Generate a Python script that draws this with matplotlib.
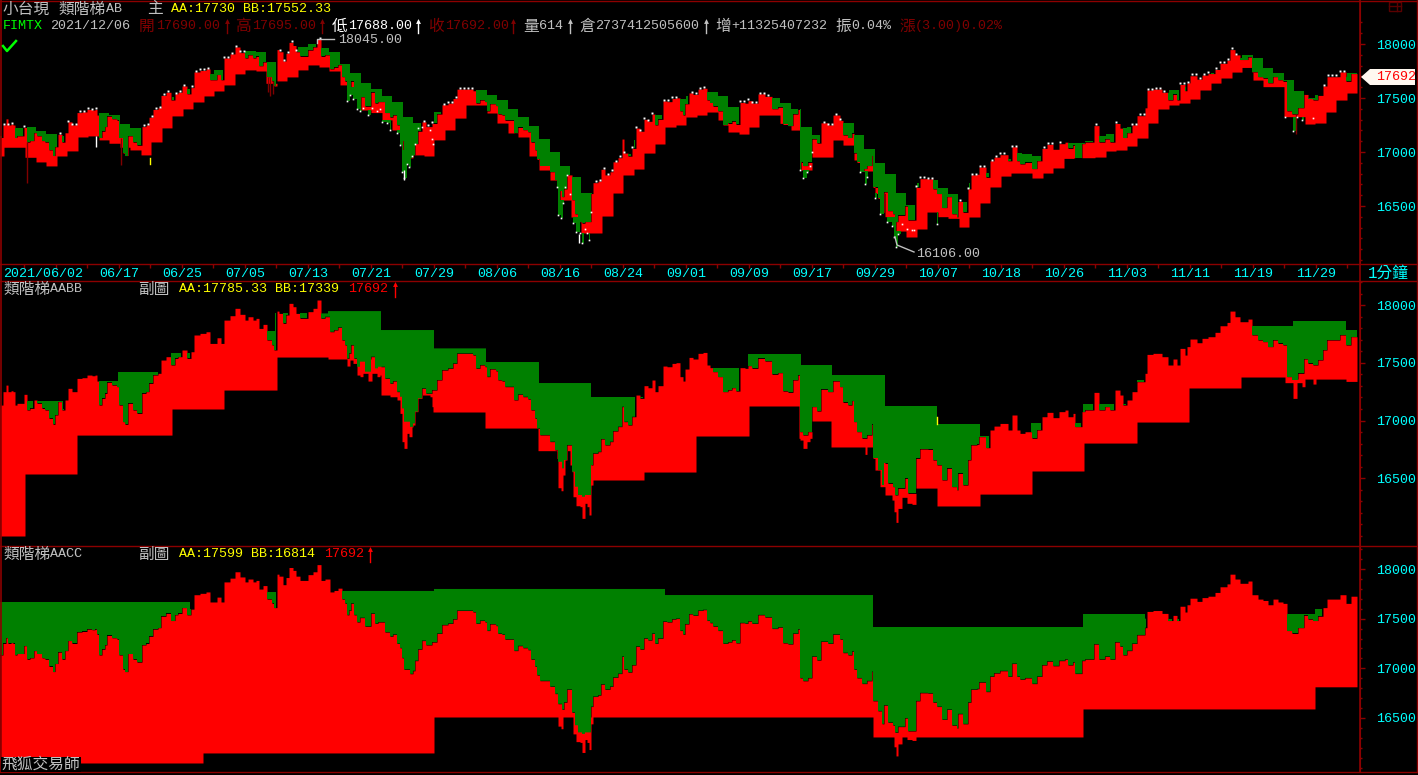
import numpy as np
import matplotlib
matplotlib.use('Agg')
import matplotlib.pyplot as plt
from matplotlib.patches import Polygon, Rectangle

# price (bar position = screen column of the chart)
bar_idx = [0, 3, 6, 8, 11, 13, 15, 17, 20, 24, 27, 30, 34, 37, 42, 45, 49, 53, 55, 58, 62, 65, 68, 72, 77, 82, 87, 92, 95, 97,
           99, 102, 105, 107, 112, 117, 119, 123, 125, 128, 133, 137, 142, 146, 149, 153, 158, 161, 166, 171, 175, 178,
           182, 187, 191, 194, 200, 206, 210, 214, 217, 221, 224, 230, 235, 240, 245, 248, 253, 256, 259, 263, 267, 272,
           274, 277, 279, 283, 286, 289, 293, 296, 300, 305, 308, 313, 317, 321, 325, 330, 334, 338, 342, 345, 347, 349,
           351, 354, 357, 360, 365, 371, 375, 378, 382, 385, 390, 393, 397, 400, 402, 404, 407, 410, 413, 415, 418, 422,
           426, 432, 437, 442, 448, 453, 457, 462, 467, 473, 476, 480, 485, 487, 490, 496, 498, 502, 505, 510, 514, 518,
           523, 528, 531, 535, 537, 540, 545, 550, 555, 558, 562, 564, 567, 569, 572, 575, 578, 582, 585, 588, 591, 593,
           598, 601, 605, 610, 613, 618, 622, 624, 628, 632, 636, 640, 644, 648, 652, 655, 658, 663, 667, 672, 676, 680,
           683, 685, 689, 693, 698, 703, 707, 710, 713, 718, 723, 728, 732, 736, 740, 745, 748, 752, 758, 765, 772, 778,
           783, 788, 793, 798, 800, 803, 808, 812, 817, 821, 828, 833, 840, 843, 848, 852, 854, 857, 862, 867, 872, 873,
           878, 882, 884, 888, 893, 895, 898, 903, 905, 908, 913, 916, 920, 928, 933, 937, 942, 947, 952, 957, 958, 963,
           968, 971, 977, 979, 986, 990, 994, 1000, 1008, 1012, 1017, 1020, 1025, 1032, 1037, 1042, 1047, 1053, 1059, 1065,
           1068, 1073, 1075, 1082, 1085, 1088, 1094, 1099, 1105, 1110, 1115, 1120, 1123, 1127, 1132, 1137, 1145, 1147, 1153,
           1162, 1168, 1173, 1177, 1180, 1185, 1187, 1190, 1197, 1202, 1208, 1215, 1220, 1227, 1230, 1235, 1240, 1248, 1252,
           1258, 1263, 1268, 1273, 1278, 1283, 1287, 1292, 1298, 1304, 1308, 1313, 1318, 1323, 1327, 1332, 1340, 1346, 1351,
           1357]
close = [17134, 17250, 17307, 17250, 17258, 17250, 17134, 17149, 17149, 17227, 17091, 17105, 17178, 17149, 17105, 17091, 17019, 16967, 17048, 17163, 17091, 17178, 17279, 17250, 17365, 17371, 17394, 17388, 17394, 17342,
         17134, 17192, 17235, 17331, 17307, 17293, 17134, 16990, 16967, 17149, 17091, 17062, 17235, 17250, 17322, 17394, 17409, 17524, 17553, 17481, 17538, 17553,
         17611, 17538, 17596, 17741, 17755, 17769, 17668, 17668, 17717, 17668, 17870, 17908, 17972, 17920, 17870, 17899, 17870, 17885, 17798, 17833, 17697, 17654,
         17611, 17948, 17928, 17842, 17914, 18015, 17986, 17928, 17885, 17885, 17943, 17972, 18044, 17885, 17899, 17769, 17784, 17807, 17697, 17654, 17538, 17582,
         17654, 17538, 17466, 17510, 17423, 17553, 17452, 17466, 17466, 17365, 17322, 17342, 17250, 17206, 17105, 16990, 16990, 16945, 16975, 17077, 17192, 17279,
         17235, 17264, 17351, 17437, 17452, 17495, 17582, 17582, 17582, 17567, 17452, 17481, 17466, 17380, 17446, 17429, 17351, 17342, 17293, 17293, 17178, 17227,
         17206, 17186, 17091, 17019, 16932, 16875, 16875, 16817, 16745, 16643, 16586, 16658, 16788, 16788, 16557, 16427, 16355, 16340, 16355, 16355, 16615, 16716,
         16730, 16840, 16788, 16817, 16909, 16947, 17120, 16990, 16961, 17033, 17221, 17192, 17302, 17284, 17351, 17250, 17302, 17472, 17466, 17495, 17501, 17380,
         17342, 17446, 17547, 17533, 17582, 17590, 17481, 17458, 17423, 17380, 17250, 17264, 17284, 17255, 17458, 17452, 17475, 17452, 17538, 17515, 17400, 17414,
         17255, 17244, 17351, 17394, 16903, 16874, 16903, 17120, 17082, 17270, 17250, 17342, 17293, 17157, 17134, 17172, 16990, 16903, 16846, 16874, 16967, 16672,
         16571, 16441, 16629, 16456, 16427, 16355, 16413, 16413, 16499, 16369, 16369, 16672, 16753, 16750, 16658, 16615, 16485, 16586, 16427, 16398, 16542, 16441,
         16658, 16788, 16794, 16860, 16765, 16918, 16952, 16975, 16918, 17048, 16918, 16889, 16903, 16846, 16918, 17033, 17071, 17025, 17077, 17091,
         17033, 17062, 16947, 17077, 17091, 17091, 17244, 17091, 17120, 17091, 17264, 17221, 17134, 17178, 17250, 17336, 17409, 17573, 17582,
         17553, 17481, 17533, 17481, 17625, 17567, 17640, 17706, 17674, 17712, 17726, 17764, 17821, 17850, 17948, 17899, 17856, 17879, 17741,
         17697, 17683, 17640, 17697, 17668, 17654, 17380, 17351, 17409, 17533, 17495, 17481, 17524, 17611, 17697, 17697, 17741, 17654, 17726,
         17689]

# lows, only where they poke out under the ladder
low_idx = [0, 347, 350, 353, 357, 360, 363, 368, 372, 377, 380, 382, 387, 390, 397, 400, 402, 404, 407, 409, 412, 415, 418, 422,
           430, 432, 433, 435, 557, 558, 561, 563, 565, 567, 570, 573, 576, 580, 582, 585, 587, 589, 591, 593, 800, 803, 807,
           810, 812, 814, 860, 865, 867, 869, 875, 880, 887, 892, 894, 896, 898, 902, 907, 912, 914, 916, 937, 939, 1285,
           1293, 1297, 1302, 1305, 1313, 1316]
low = [np.nan, 17472, 17524, 17495, 17394, 17380, 17409, 17342, 17409, 17380, 17394, 17279, 17264, 17206, 17178, 17062, 16817, 16759, 16889, 16860, 16961, 17077, 17221, 17235,
       17206, 17120, 17077, np.nan, 16672, 16418, 16392, 16528, 16672, 16788, 16615, 16340, 16262, 16254, 16153, 16283, 16254, 16182, 16441, np.nan, 16831, 16759, 16817,
       16874, 16996, np.nan, 16817, 16707, 16773, np.nan, 16571, 16427, 16355, 16311, 16210, 16118, 16239, 16335, 16283, 16274, 16274, np.nan, 16337, np.nan, 17328,
       17192, 17328, 17293, np.nan, 17316, np.nan]

# wicks only the one-minute pane shows
wick_bar = [27, 121, 268, 270, 273, 1296]
wick_low = [16710, 16880, 17560, 17520, 17540, 17170]
white_bar = [96, 404, 579]
white_top = [17150, 16830, 16240]
white_low = [17050, 16741, 16160]

# pane 1 ladder, one value per step
p1_aa = [17149, 17149, 17223, 17232, 17195, 17167, 17149, 17204, 17235, 17235, 17362, 17343, 17260, 17223, 17204, 17235, 17358, 17513, 17584, 17575, 17723, 17760, 17729, 17791, 17936, 17926, 17834, 17821, 17821, 17973, 18000, 17963, 17926, 17815, 17732, 17639, 17584, 17519, 17463, 17325, 17269, 17235, 17371, 17328,
         17296, 17450, 17574, 17527, 17481, 17398, 17324, 17240, 17120, 17000, 16870, 16768, 16620, 16648, 16648, 16710, 16981, 17111, 17234, 17342, 17358, 17490, 17518, 17555, 17555, 17518, 17416, 17358, 17389, 17509, 17500, 17453, 17398, 17231, 17157, 17111, 17172, 17268, 17157, 17027, 16898, 16796, 16620,
         16509, 16710, 16740, 16666, 16611, 16537, 16710, 16802, 16870, 16932, 16987, 16981, 16963, 17018, 17027, 17083, 17083, 17101, 17148, 17166, 17222, 17231, 17324, 17481, 17543, 17574, 17598, 17635, 17666, 17728, 17821, 17867, 17898, 17870, 17777, 17731, 17666, 17564, 17497, 17527, 17666, 17697, 17731]
p1_bb = [16963, 17044, 17044, 16951, 16908, 16871, 16963, 17010, 17139, 17149, 17112, 17081, 17044, 17019, 16973, 17093, 17223, 17334, 17399, 17463, 17519, 17565, 17621, 17723, 17760, 17750, 17636, 17658, 17695, 17760, 17806, 17787, 17750, 17621, 17605, 17389, 17365, 17297, 17204, 17019, 16973, 16963, 17112, 17204,
         17314, 17435, 17435, 17361, 17268, 17176, 17139, 16963, 16833, 16740, 16555, 16398, 16250, 16250, 16407, 16620, 16787, 16842, 16990, 17074, 17231, 17250, 17324, 17342, 17370, 17296, 17185, 17166, 17231, 17342, 17342, 17265, 17203, 16833, 16953, 16953, 17111, 17064, 16926, 16824, 16617, 16401, 16268,
         16213, 16287, 16444, 16401, 16386, 16305, 16398, 16528, 16676, 16777, 16805, 16805, 16759, 16805, 16852, 16941, 16947, 16947, 16953, 17009, 17018, 17055, 17129, 17268, 17398, 17435, 17453, 17490, 17574, 17638, 17685, 17740, 17783, 17666, 17605, 17605, 17327, 17327, 17259, 17268, 17370, 17481, 17546]

# pane 2 ladders
p2_aa_edges = [0, 25, 63, 97, 118, 159, 171, 191, 266, 275, 328, 381, 434, 486, 539, 591, 644, 712, 748, 801, 832, 885, 937, 980, 1031, 1083, 1137, 1189, 1252, 1293, 1346, 1358]
p2_aa = [17091, 17169, 17100, 17342, 17420, 17300, 17582, 17500, 17775, 17928, 17948, 17784, 17625, 17507, 17325, 17204, 17150, 17455, 17576, 17481, 17394, 17126, 16970, 16866, 16978, 17143, 17351, 17400, 17818, 17862, 17785]
p2_bb_edges = [0, 25, 77, 172, 224, 277, 328, 381, 433, 485, 538, 591, 644, 696, 749, 799, 812, 831, 885, 916, 937, 980, 1032, 1084, 1137, 1189, 1241, 1285, 1346, 1358]
p2_bb = [16000, 16537, 16874, 17100, 17264, 17550, 17533, 17221, 17074, 16935, 16739, 16485, 16554, 16866, 17126, 16846, 16996, 16771, 16355, 16415, 16260, 16363, 16563, 16805, 16987, 17282, 17377, 17359, 17339]

# pane 3 ladders
p3_aa_edges = [0, 190, 265, 277, 340, 434, 665, 873, 1083, 1145, 1285, 1315, 1358]
p3_aa = [17668, 17600, 17768, 17600, 17779, 17799, 17738, 17416, 17547, 17500, 17547, 17599]
p3_bb_edges = [0, 203, 434, 873, 1083, 1315, 1358]
p3_bb = [16047, 16148, 16510, 16309, 16591, 16814]

date_labels = ['2021/06/02', '06/17', '06/25', '07/05', '07/13', '07/21', '07/29', '08/06', '08/16', '08/24', '09/01',
               '09/09', '09/17', '09/29', '10/07', '10/18', '10/26', '11/03', '11/11', '11/19', '11/29']
price_ticks = [18000, 17500, 17000, 16500]

FRAME = '#8c0000'
GRAY = '#c0c0c0'
DKRED = '#800000'
YEL = '#ffff00'
CYAN = '#00ffff'
MONO = ['Liberation Mono', 'Noto Sans CJK TC', 'DejaVu Sans']
plt.rcParams['font.family'] = MONO

W, H = 1418, 775
RIGHT = 1360
grid = np.arange(0, 1358)


def hold(edges, vals):
    i = np.searchsorted(edges, grid, side='right') - 1
    return np.asarray(vals, dtype=float)[np.clip(i, 0, len(vals) - 1)]


def pane(top, bottom):
    return fig.add_axes([0, 1 - bottom / H, RIGHT / W, (bottom - top) / H], facecolor='black')


close_d = hold(bar_idx, close)
low_d = np.fmin(hold(low_idx, low), close_d)


def draw_pane(ax, aa, bb, y18000, px_per_pt, top, bottom, wick):
    ax.set_xlim(0, RIGHT)
    ax.set_ylim(18000 - (bottom - y18000) / px_per_pt, 18000 + (y18000 - top) / px_per_pt)
    upper = np.maximum(bb, close_d)
    lower = np.minimum(bb, close_d)
    ax.fill_between(grid, lower if wick != 'red' else np.minimum(lower, low_d), upper, step='post', color='#ff0000', lw=0, zorder=2)
    ax.fill_between(grid, close_d, aa, where=aa > close_d, step='post', color='#008000', lw=0, zorder=3)
    if wick != 'red':
        ax.fill_between(grid, low_d, lower, where=low_d < lower, step='post', color=wick, lw=0, zorder=4)
    for s in ['top', 'left', 'bottom']:
        ax.spines[s].set_visible(False)
    ax.spines['right'].set_color(FRAME)
    ax.set_xticks([])
    ax.yaxis.tick_right()
    ax.set_yticks(price_ticks)
    ax.set_yticks(np.arange(16000, 18300, 100), minor=True)
    ax.tick_params(axis='y', which='major', length=3.6, width=1, color=FRAME, labelcolor=CYAN, labelsize=9.6, pad=8)
    ax.tick_params(axis='y', which='minor', length=1.5, width=1, color=FRAME)


fig = plt.figure(figsize=(W / 100, H / 100), dpi=100, facecolor='black')

p1_edges = np.r_[0, 3.7 + 10.49 * np.arange(129)]
ax1 = pane(1, 264)
aa1 = hold(p1_edges, p1_aa)
bb1 = hold(p1_edges, p1_bb)
draw_pane(ax1, aa1, bb1, 44, 0.108, 1, 264, '#008000')
for b, v in zip(wick_bar, wick_low):
    ax1.plot([b, b], [v, close_d[b]], color='#800000', lw=1, zorder=4, solid_capstyle='butt')
for b, t, v in zip(white_bar, white_top, white_low):
    ax1.plot([b, b], [v, t], color='white', lw=1, zorder=5, solid_capstyle='butt')
ax1.plot([150, 150], [16890, 16940], color=YEL, lw=1, zorder=5)
# white ticks on the highs and the deep lows of the one-minute pane
tops = (close_d >= aa1) & (grid % 4 == 0)
ax1.plot(grid[tops], close_d[tops] + 12, 's', color='white', ms=1.4, mew=0, zorder=5)
ax1.plot(low_idx, low, 's', color='white', ms=1.2, mew=0, zorder=5)

ax2 = pane(282, 546)
draw_pane(ax2, hold(p2_aa_edges, p2_aa), hold(p2_bb_edges, p2_bb), 305, 0.1155, 282, 546, 'red')
ax2.plot([937, 937], [16970, 17030], color=YEL, lw=1, zorder=5)
ax3 = pane(547, 772)
draw_pane(ax3, hold(p3_aa_edges, p3_aa), hold(p3_bb_edges, p3_bb), 569, 0.09933, 547, 772, 'red')

# time axis strip
tax = pane(264, 281)
tax.set_xlim(0, RIGHT)
tax.set_ylim(0, 1)
for s in tax.spines.values():
    s.set_visible(False)
tax.set_yticks([])
tax.xaxis.tick_top()
tax.set_xticks(24 + 31.5 * np.arange(43))
tax.set_xticklabels([])
tax.tick_params(axis='x', direction='in', length=3, width=1, color=FRAME, top=True, bottom=False)
tax.set_facecolor('black')
for i, d in enumerate(date_labels):
    tax.text(3 if i == 0 else 99 + 63 * (i - 1), 0.42, d, color=CYAN, fontsize=9.6, va='center', ha='left')

# overlay in screen pixels for the frame and the header texts
ov = fig.add_axes([0, 0, 1, 1], facecolor='none')
ov.set_xlim(0, W)
ov.set_ylim(H, 0)
ov.axis('off')
for y in [1, 264, 281, 546, 772]:
    ov.plot([0, W], [y, y], color=FRAME, lw=1)
ov.plot([1, 1], [0, 772], color=FRAME, lw=1.2)
ov.plot([1417, 1417], [0, 772], color=FRAME, lw=1)
ov.plot([RIGHT, RIGHT], [0, 772], color=FRAME, lw=1.2)


def txt(x, y, s, c=GRAY, size=9.6, **kw):
    ov.text(x, y, s, color=c, fontsize=size, va='center', ha='left', **kw)


def arrow(x, y0, y1, c):
    ov.plot([x, x], [y0 + 2, y1], color=c, lw=1)
    ov.plot([x], [y0 + 2], '^', color=c, ms=3.5, mew=0)


txt(3, 9, '小台現', size=11.3)
txt(58, 9, '類階梯', size=11.3)
txt(106, 9, 'AB')
txt(147, 9, '主', size=11.3)
txt(171, 9, 'AA:17730', YEL)
txt(243, 9, 'BB:17552.33', YEL)

txt(3, 26, 'FIMTX', '#00ff00')
txt(50, 26, '2021/12/06')
for x, s, c in [(139, '開', DKRED), (235, '高', DKRED), (332, '低', 'white'), (428, '收', DKRED),
                (523, '量', GRAY), (579, '倉', GRAY), (715, '增', GRAY), (835, '振', GRAY), (899, '漲', DKRED)]:
    txt(x, 26, s, c, size=11.3)
for x, s, c in [(156, '17690.00', DKRED), (252, '17695.00', DKRED), (348, '17688.00', 'white'), (445, '17692.00', DKRED),
                (539, '614', GRAY), (595, '2737412505600', GRAY), (731, '+11325407232', GRAY), (851, '0.04%', GRAY),
                (915, '(3.00)0.02%', DKRED)]:
    txt(x, 26, s, c)
for x, c in [(227, DKRED), (322, DKRED), (418, 'white'), (513, DKRED), (570, GRAY), (706, GRAY)]:
    arrow(x, 19, 33, c)

txt(338, 40, '18045.00')
ov.plot([317, 317, 334], [43, 39, 39], color=GRAY, lw=1)
txt(916, 254, '16106.00')
ov.plot([895, 897, 914], [237, 245, 252], color=GRAY, lw=1)
ov.plot([3, 7, 16], [46, 51, 41], color='#00ff00', lw=1.8)

txt(3, 289, '類階梯', size=11.3)
txt(50, 289, 'AABB')
txt(138, 289, '副圖', size=11.3)
txt(179, 289, 'AA:17785.33', YEL)
txt(275, 289, 'BB:17339', YEL)
txt(348, 289, '17692', '#ff0000')
arrow(395, 282, 297, '#ff0000')

txt(3, 554, '類階梯', size=11.3)
txt(50, 554, 'AACC')
txt(138, 554, '副圖', size=11.3)
txt(179, 554, 'AA:17599', YEL)
txt(251, 554, 'BB:16814', YEL)
txt(324, 554, '17692', '#ff0000')
arrow(370, 547, 562, '#ff0000')

ov.add_patch(Rectangle((1, 757), 80, 15, fc='black', ec='none', zorder=3))
ov.text(1, 764, '飛狐交易師', color=GRAY, fontsize=11.3, va='center', ha='left', zorder=4)

txt(1368, 273, '1分鐘', CYAN, size=11.3)

# last price flag
ov.add_patch(Polygon([(1361, 77), (1370, 69), (1415, 69), (1415, 85), (1370, 85)], closed=True, fc='#fff8f0', ec='none', zorder=3))
ov.text(1376, 77, '17692', color='#ff0000', fontsize=9.6, va='center', ha='left', zorder=4)

# window button in the top right corner
ov.add_patch(Rectangle((1389, 2), 12, 9, fc='none', ec='#5a0000', lw=1))
ov.plot([1397, 1397], [2, 11], color='#5a0000', lw=1)
ov.plot([1389, 1401], [6, 6], color='#5a0000', lw=1)

fig.savefig('out.png', dpi=100, facecolor='black')
